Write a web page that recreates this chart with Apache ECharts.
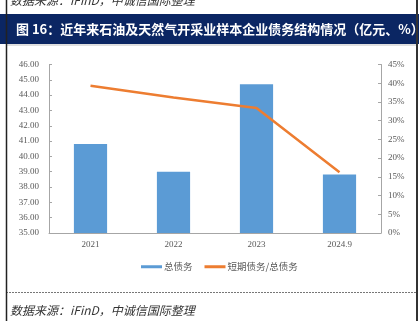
<!DOCTYPE html>
<html>
<head>
<meta charset="utf-8">
<script src="https://cdn.jsdelivr.net/npm/echarts@6/dist/echarts.min.js"></script>
<style>
html,body{margin:0;padding:0;background:#fff;}
#c{width:419px;height:321px;}
</style>
</head>
<body>
<div id="c"></div>
<script>
var categories = ['2021', '2022', '2023', '2024.9'];
var totalDebt = [40.81, 39.00, 44.71, 38.82];
var shortRatio = [39.3, 36.2, 33.4, 16.2];
var seriesNames = ['总债务', '短期债务/总债务'];
var titleText = '图 16：近年来石油及天然气开采业样本企业债务结构情况（亿元、%）';
var sourceText = '数据来源：iFinD，中诚信国际整理';

var chart = echarts.init(document.getElementById('c'), null, {renderer: 'canvas'});
var serif = '"Liberation Serif", "Noto Sans CJK SC", serif';
var axisGray = '#A6A6A6';
var labelGray = '#595959';

chart.setOption({
  animation: false,
  backgroundColor: '#fff',
  grid: {left: 49, right: 38, top: 64.5, bottom: 88, containLabel: false},
  legend: {
    left: 136, top: 257,
    itemWidth: 21, itemHeight: 3, itemGap: 12,
    textStyle: {fontSize: 9.5, color: labelGray, fontFamily: '"Noto Sans CJK SC", serif', padding: [0, 0, 0, -3]},
    data: [
      {name: seriesNames[0], icon: 'rect'},
      {name: seriesNames[1], icon: 'rect'}
    ]
  },
  xAxis: {
    type: 'category',
    data: categories,
    boundaryGap: true,
    axisLine: {lineStyle: {color: axisGray, width: 1}},
    axisTick: {inside: true, length: 4, lineStyle: {color: axisGray}},
    axisLabel: {fontSize: 9, color: labelGray, fontFamily: serif, margin: 7}
  },
  yAxis: [
    {
      type: 'value', min: 35, max: 46, interval: 1,
      splitLine: {show: false},
      axisLine: {show: true, lineStyle: {color: axisGray}},
      axisTick: {show: true, inside: true, length: 3, lineStyle: {color: axisGray}},
      axisLabel: {fontSize: 9, color: labelGray, fontFamily: serif, margin: 10,
        formatter: function (v) { return v.toFixed(2); }}
    },
    {
      type: 'value', min: 0, max: 45, interval: 5, position: 'right',
      splitLine: {show: false},
      axisLine: {show: true, lineStyle: {color: axisGray}},
      axisTick: {show: true, inside: true, length: 3, lineStyle: {color: axisGray}},
      axisLabel: {fontSize: 9, color: labelGray, fontFamily: serif, margin: 7,
        formatter: '{value}%'}
    }
  ],
  series: [
    {
      name: seriesNames[0], type: 'bar', data: totalDebt,
      barWidth: '40%',
      itemStyle: {color: '#5B9BD5'}
    },
    {
      name: seriesNames[1], type: 'line', yAxisIndex: 1, data: shortRatio,
      symbol: 'none', smooth: false,
      lineStyle: {color: '#ED7D31', width: 2.5},
      itemStyle: {color: '#ED7D31'}
    }
  ],
  graphic: [
    {type: 'rect', shape: {x: 0, y: 14, width: 419, height: 30}, style: {fill: '#0B2663'}, z: 1},
    {type: 'line', shape: {x1: 6, y1: 45, x2: 417, y2: 45}, style: {stroke: '#BFBFBF', lineWidth: 1}, z: 2},
    {type: 'line', shape: {x1: 6.5, y1: 0, x2: 6.5, y2: 321}, style: {stroke: '#222', lineWidth: 1.5}, z: 3},
    {type: 'line', shape: {x1: 417, y1: 0, x2: 417, y2: 321}, style: {stroke: '#333', lineWidth: 2}, z: 3},
    {type: 'line', shape: {x1: 6, y1: 292.5, x2: 417, y2: 292.5}, style: {stroke: '#777', lineWidth: 1, lineDash: [2, 1]}, z: 2},
    {type: 'text', x: 16, y: 29, z: 4,
      style: {text: titleText, fill: '#fff', fontSize: 13, fontWeight: 'bold',
        fontFamily: '"Noto Sans CJK SC", sans-serif', verticalAlign: 'middle', align: 'left'}},
    {type: 'text', x: 10, y: 0, z: 4,
      style: {text: sourceText, fill: '#333', fontSize: 12, fontStyle: 'italic',
        fontFamily: '"Noto Sans CJK SC", serif', verticalAlign: 'middle', align: 'left'}},
    {type: 'text', x: 10, y: 310, z: 4,
      style: {text: sourceText, fill: '#333', fontSize: 12, fontStyle: 'italic',
        fontFamily: '"Noto Sans CJK SC", serif', verticalAlign: 'middle', align: 'left'}}
  ]
});
</script>
</body>
</html>
